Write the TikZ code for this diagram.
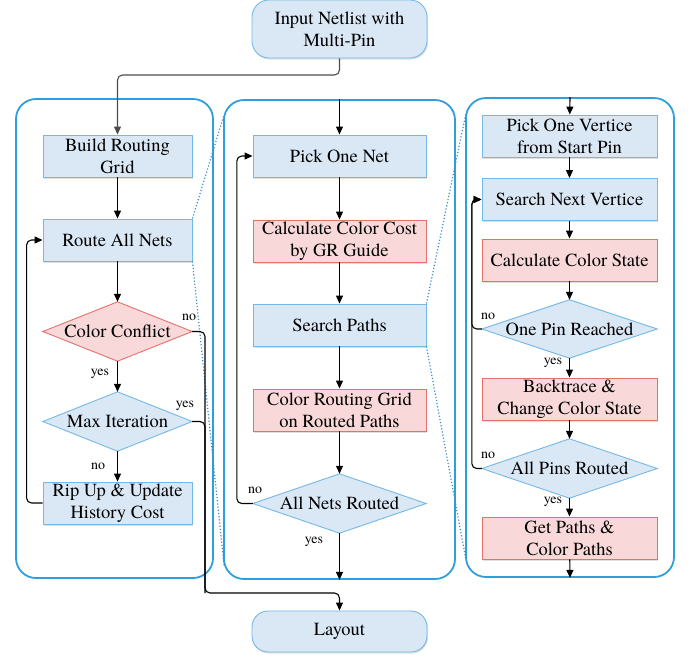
\documentclass[tikz,border=0pt]{standalone}
\usepackage{fontspec}
\setmainfont{texgyretermes}[Extension=.otf, UprightFont=*-regular, BoldFont=*-bold, ItalicFont=*-italic, BoldItalicFont=*-bolditalic]
\usetikzlibrary{arrows.meta,backgrounds,shadows}
\definecolor{fillb}{HTML}{DAE7F5}
\definecolor{lineb}{HTML}{74B9E5}
\definecolor{fillr}{HTML}{F8D8D8}
\definecolor{liner}{HTML}{E8706A}
\definecolor{contc}{HTML}{2E9FDC}
\definecolor{dotc}{HTML}{3A8FCB}
\begin{document}
\begin{tikzpicture}[x=1pt,y=-1pt,
  txt/.style={font=\fontsize{18.5}{22}\selectfont, align=center, inner sep=0pt},
  shad/.style={drop shadow={shadow xshift=1pt, shadow yshift=-1.5pt, opacity=0.25}},
  bbox/.style={txt, shad, draw=lineb, fill=fillb, line width=0.9pt, minimum height=42pt},
  rbox/.style={txt, shad, draw=liner, fill=fillr, line width=0.9pt, minimum height=42pt},
  term/.style={bbox, rounded corners=17pt, minimum width=175pt},
  dia/.style={txt, minimum height=59pt},
  cont/.style={draw=contc, line width=1.8pt, rounded corners=20pt},
  lab/.style={font=\fontsize{14}{16}\selectfont, inner sep=0pt},
  arr/.style={-{Triangle[length=8pt,width=7pt]}, line width=1.1pt, rounded corners=5pt},
  ln/.style={line width=1.1pt, rounded corners=5pt},
  zoomline/.style={draw=dotc, dotted, line width=1.2pt}
]
\useasboundingbox (0,0) rectangle (691,657);

% containers
\node[cont, minimum width=197pt, minimum height=479pt] (cleft) at (114.5,338.5) {};
\node[cont, minimum width=231pt, minimum height=479pt] (cmid) at (339.5,339.5) {};
\node[cont, minimum width=208pt, minimum height=479pt] (cright) at (570,337.5) {};

% terminals
\node[term, minimum height=58pt] (input) at (339.5,29) {Input Netlist with\\Multi-Pin};
\node[term, minimum height=41pt, rounded corners=16pt] (layout) at (339.5,631.5) {Layout};

% left column
\node[bbox, minimum width=149pt] (build) at (117.5,156) {Build Routing\\Grid};
\node[bbox, minimum width=149pt] (route) at (117.5,240) {Route All Nets};
\node[dia, minimum width=149pt] (cc) at (117.5,331.5) {Color Conflict};
\node[dia, minimum width=149pt] (mi) at (117.5,421.5) {Max Iteration};
\node[bbox, minimum width=149pt] (rip) at (117.5,503) {Rip Up \& Update\\History Cost};

% middle column
\node[bbox, minimum width=173pt] (pick) at (339.5,156) {Pick One Net};
\node[rbox, minimum width=173pt] (ccost) at (339.5,241) {Calculate Color Cost\\by GR Guide};
\node[bbox, minimum width=173pt] (sp) at (339.5,325) {Search Paths};
\node[rbox, minimum width=173pt] (crg) at (339.5,410) {Color Routing Grid\\on Routed Paths};
\node[dia, minimum width=173pt] (anr) at (339.5,503.5) {All Nets Routed};

% right column
\node[bbox, minimum width=175pt] (pov) at (569.5,136) {Pick One Vertice\\from Start Pin};
\node[bbox, minimum width=175pt] (snv) at (569.5,199.5) {Search Next Vertice};
\node[rbox, minimum width=175pt] (ccs) at (569.5,260) {Calculate Color State};
\node[dia, minimum width=175pt, minimum height=58pt] (opr) at (569.5,329) {One Pin Reached};
\node[rbox, minimum width=175pt] (bt) at (569.5,399) {Backtrace \&\\Change Color State};
\node[dia, minimum width=175pt] (apr) at (569.5,468.5) {All Pins Routed};
\node[rbox, minimum width=175pt] (gp) at (569.5,538) {Get Paths \&\\Color Paths};

% diamonds drawn behind their text
\begin{pgfonlayer}{background}
\foreach \n/\c in {cc/r, mi/b, anr/b, opr/b, apr/b}{
  \filldraw[fill=fill\c, draw=line\c, line width=0.9pt] (\n.west) -- (\n.north) -- (\n.east) -- (\n.south) -- cycle;
}
\end{pgfonlayer}

% coordinates
\coordinate (j1) at (117.5,75);
\coordinate (jl) at (205,593);
\coordinate (zm1) at (224,115);
\coordinate (zm2) at (224,565);
\coordinate (zr1) at (466,113);
\coordinate (zr2) at (466,560);

% zoom lines
\draw[zoomline] (route.north east) -- (zm1);
\draw[zoomline] (route.south east) -- (zm2);
\draw[zoomline] (sp.north east) -- (zr1);
\draw[zoomline] (sp.south east) -- (zr2);

% left connectors
\draw[arr, draw=black!70] (input.south) |- (j1) -- (build.north);
\draw[arr] (build) -- (route);
\draw[arr] (route) -- (cc.north);
\draw[arr] (cc.south) -- (mi.north);
\draw[arr] (mi.south) -- (rip);
\draw[arr] (rip.west) -- ++(-16,0) |- (route.west);
\draw[ln] (mi.east) -| (jl);
\draw[arr] (cc.east) -| (jl) -| (layout.north);

% middle connectors
\draw[arr] (cmid.north) -- (pick);
\draw[arr] (pick) -- (ccost);
\draw[arr] (ccost) -- (sp);
\draw[arr] (sp) -- (crg);
\draw[arr] (crg) -- (anr.north);
\draw[arr] (anr.south) -- (cmid.south);
\draw[arr] (anr.west) -- ++(-16,0) |- (pick.west);

% right connectors
\draw[arr] (cright.north) -- (pov);
\draw[arr] (pov) -- (snv);
\draw[arr] (snv) -- (ccs);
\draw[arr] (ccs) -- (opr.north);
\draw[arr] (opr.south) -- (bt);
\draw[arr] (bt) -- (apr.north);
\draw[arr] (apr.south) -- (gp);
\draw[arr] (gp) -- (cright.south);
\draw[arr] (opr.west) -- ++(-10,0) |- (snv.west);
\draw[arr] (apr.west) -- ++(-10,0) |- (snv.west);

% labels
\node[lab] (l1) at (189,317) {no};
\node[lab] (l2) at (100,374) {yes};
\node[lab] (l3) at (185,406) {yes};
\node[lab] (l4) at (98,466) {no};
\node[lab] (l5) at (255,490) {no};
\node[lab] (l6) at (314,542) {yes};
\node[lab] (l7) at (488,316) {no};
\node[lab] (l8) at (553,363) {yes};
\node[lab] (l9) at (488,455) {no};
\node[lab] (l10) at (553,502) {yes};
\end{tikzpicture}
\end{document}
